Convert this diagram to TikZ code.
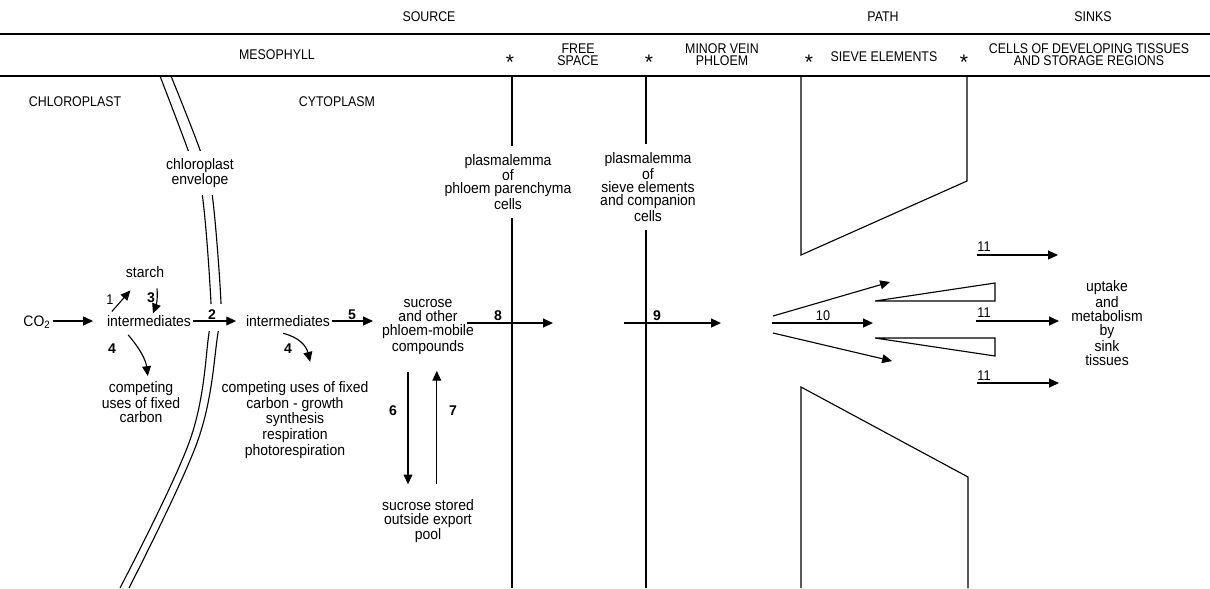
\documentclass[tikz,border=0pt]{standalone}
\usepackage{fontspec}
\setmainfont{Liberation Sans}
\usetikzlibrary{positioning}
\usetikzlibrary{arrows.meta}

\begin{document}
\begin{tikzpicture}[x=0.025cm,y=-0.025cm,line width=0.8pt,
  txt/.style={font=\fontsize{10.8}{10}\selectfont\addfontfeature{FakeStretch=0.92},align=center,inner sep=1pt},
  memb/.style={font=\fontsize{10.8}{9.3}\selectfont\addfontfeature{FakeStretch=0.92},align=center,fill=white,inner xsep=1pt,inner ysep=6pt},
  hdr/.style={font=\fontsize{10}{8.6}\selectfont\addfontfeature{FakeStretch=0.88},align=center,inner sep=1pt},
  bound/.style={font=\fontsize{15}{15}\selectfont,inner sep=0pt},
  num/.style={font=\fontsize{10}{10}\selectfont\bfseries,inner sep=1pt},
  thin/.style={font=\fontsize{10}{10}\selectfont\addfontfeature{FakeStretch=0.9},inner sep=1pt},
  arr/.style={-{Triangle[length=7pt,width=6.3pt]}}]
 \useasboundingbox (0,0) rectangle (1210,588);
 % headings
 \node[hdr] (source) at (429,17) {SOURCE};
 \node[hdr] (path) at (883,17) {PATH};
 \node[hdr] (sinks) at (1093,17) {SINKS};
 \draw (0,34) -- (1210,34);
 \node[hdr] (meso) at (277,55) {MESOPHYLL};
 \node[bound] (star1) at (510,62) {*};
 \node[hdr] (free) at (578,55) {FREE\\SPACE};
 \node[bound] (star2) at (649,62) {*};
 \node[hdr] (minor) at (722,55) {MINOR VEIN\\PHLOEM};
 \node[bound] (star3) at (809,62) {*};
 \node[hdr] (sieve) at (884,57) {SIEVE ELEMENTS};
 \node[bound] (star4) at (964,62) {*};
 \node[hdr] (cells) at (1089,55) {CELLS OF DEVELOPING TISSUES\\AND STORAGE REGIONS};
 \draw (0,76) -- (1210,76);
 \node[hdr] (chloro) at (75,102) {CHLOROPLAST};
 \node[hdr] (cyto) at (337,102) {CYTOPLASM};

 % chloroplast envelope
 \draw plot[smooth,tension=0.6] coordinates {(160,76) (188,150) (202,193) (211,303) (209,333) (190,440) (120,588)};
 \draw plot[smooth,tension=0.6] coordinates {(171,76) (200,150) (212,193) (221,303) (218,333) (198,440) (129,588)};
 \fill[white] (199,304) rectangle (230,331);
 \node[memb,inner ysep=5pt] (env) at (200,173) {chloroplast\\envelope};

 % membranes and sieve tube
 \draw (512,76) -- (512,588);
 \draw (646,76) -- (646,588);
 \node[memb] (pl1) at (508,182) {plasmalemma\\of\\phloem parenchyma\\cells};
 \node[memb] (pl2) at (648,187) {plasmalemma\\of\\sieve elements\\and companion\\cells};
 \draw (967,76) -- (967,181) -- (801,255) -- (801,76);
 \draw (801,588) -- (801,387) -- (968,477) -- (968,588);
 \draw (875,301) -- (995,283) -- (995,301) -- cycle;
 \draw (875,338) -- (995,338) -- (995,356) -- cycle;

 % pools
 \node[txt] (co2) at (37,322) {CO\textsubscript{2}};
 \node[txt] (int1) at (149,321) {intermediates};
 \node[txt] (starch) at (145,272) {starch};
 \node[txt] (int2) at (288,321) {intermediates};
 \node[txt] (sucr) at (428,327) {sucrose\\and other\\phloem-mobile\\compounds};
 \node[txt] (comp1) at (141,402) {competing\\uses of fixed\\carbon};
 \node[txt] (comp2) at (295,420) {competing uses of fixed\\carbon - growth\\synthesis\\respiration\\photorespiration};
 \node[txt] (stored) at (428,521) {sucrose stored\\outside export\\pool};
 \node[txt] (uptake) at (1107,323) {uptake\\and\\metabolism\\by\\sink\\tissues};

 \coordinate (b8) at (467,323);
 \coordinate (e8) at (553,323);
 \coordinate (b9) at (624,323);
 \coordinate (e9) at (721,323);
 \coordinate (b10t) at (773,316);
 \coordinate (e10t) at (890,282);
 \coordinate (b10) at (772,323);
 \coordinate (e10) at (873,323);
 \coordinate (b10b) at (773,333);
 \coordinate (e10b) at (892,361);
 \coordinate (b11t) at (977,255);
 \coordinate (e11t) at (1058,255);
 \coordinate (b11) at (976,321);
 \coordinate (e11) at (1059,321);
 \coordinate (b11b) at (977,383);
 \coordinate (e11b) at (1059,383);

 % steps
 \draw[arr,shorten >=0.3cm] (int1.west -| co2.east) -- (int1.west);
 \draw[arr] ([xshift=0.17cm,yshift=0.05cm]int1.north west) -- ([xshift=0.16cm,yshift=-0.27cm]starch.south west);
 \node[thin] (n1) at (110,300) {1};
 \draw[arr] ([xshift=0.3cm,yshift=-0.22cm]starch.south) .. controls +(1,12) and +(3,-8) .. ([xshift=0.1cm]int1.north);
 \node[num] (n3) at (151,298) {3};
 \draw[arr,shorten >=0.2cm] (int1.east) -- (int2.west);
 \node[num] (n2) at (212,315) {2};
 \draw[arr] ([xshift=-0.52cm,yshift=-0.16cm]int1.south) .. controls +(12,14) and +(-2,-16) .. ([xshift=0.17cm,yshift=0.09cm]comp1.north);
 \node[num] (n4a) at (112,349) {4};
 \draw[arr] ([xshift=-0.12cm,yshift=-0.12cm]int2.south) .. controls +(16,4) and +(-4,-16) .. ([xshift=0.38cm,yshift=0.45cm]comp2.north);
 \node[num] (n4b) at (288,349) {4};
 \draw[arr,shorten >=0.18cm] (int2.east) -- (int2.east -| sucr.west);
 \node[num] (n5) at (352,315) {5};
 \draw[arr,shorten <=0.4cm,shorten >=0.32cm] ([xshift=-0.5cm]sucr.south) -- ([xshift=-0.5cm]stored.north);
 \node[num] (n6) at (393,411) {6};
 \draw[arr,shorten <=0.32cm,shorten >=0.36cm] ([xshift=0.22cm]stored.north) -- ([xshift=0.22cm]sucr.south);
 \node[num] (n7) at (453,411) {7};
 \draw[arr] (b8) -- (e8);
 \node[num] (n8) at (498,316) {8};
 \draw[arr] (b9) -- (e9);
 \node[num] (n9) at (657,316) {9};
 \draw[arr] (b10t) -- (e10t);
 \draw[arr] (b10) -- (e10);
 \draw[arr] (b10b) -- (e10b);
 \node[thin] (n10) at (823,316) {10};
 \draw[arr] (b11t) -- (e11t);
 \node[thin] (n11t) at (984,247) {11};
 \draw[arr] (b11) -- (e11);
 \node[thin] (n11) at (984,313) {11};
 \draw[arr] (b11b) -- (e11b);
 \node[thin] (n11b) at (984,376) {11};
\end{tikzpicture}
\end{document}
